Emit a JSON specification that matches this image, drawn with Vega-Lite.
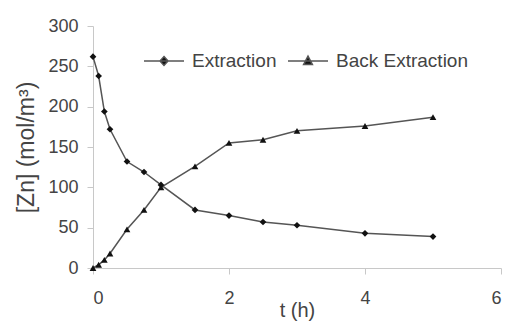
{
  "$schema": "https://vega.github.io/schema/vega-lite/v6.json",
  "width": 408,
  "height": 242,
  "autosize": {"type": "none"},
  "padding": {"left": 93, "top": 26, "right": 5, "bottom": 54},
  "background": "white",
  "config": {
    "font": "Liberation Sans",
    "view": {"stroke": null},
    "axis": {"grid": false, "domainColor": "#c8c8c8", "tickColor": "#c8c8c8", "tickSize": 6, "labelColor": "#444", "labelFontSize": 18, "titleFontSize": 20, "titleFontWeight": "normal", "titleColor": "#444"}
  },
  "data": {
    "values": [
      {"t": 0, "c": 262, "s": "Extraction"},
      {"t": 0.083, "c": 238, "s": "Extraction"},
      {"t": 0.167, "c": 194, "s": "Extraction"},
      {"t": 0.25, "c": 172, "s": "Extraction"},
      {"t": 0.5, "c": 132, "s": "Extraction"},
      {"t": 0.75, "c": 119, "s": "Extraction"},
      {"t": 1, "c": 103, "s": "Extraction"},
      {"t": 1.5, "c": 72, "s": "Extraction"},
      {"t": 2, "c": 65, "s": "Extraction"},
      {"t": 2.5, "c": 57, "s": "Extraction"},
      {"t": 3, "c": 53, "s": "Extraction"},
      {"t": 4, "c": 43, "s": "Extraction"},
      {"t": 5, "c": 39, "s": "Extraction"},
      {"t": 0, "c": 0, "s": "Back Extraction"},
      {"t": 0.083, "c": 4, "s": "Back Extraction"},
      {"t": 0.167, "c": 10, "s": "Back Extraction"},
      {"t": 0.25, "c": 18, "s": "Back Extraction"},
      {"t": 0.5, "c": 48, "s": "Back Extraction"},
      {"t": 0.75, "c": 72, "s": "Back Extraction"},
      {"t": 1, "c": 100, "s": "Back Extraction"},
      {"t": 1.5, "c": 126, "s": "Back Extraction"},
      {"t": 2, "c": 155, "s": "Back Extraction"},
      {"t": 2.5, "c": 159, "s": "Back Extraction"},
      {"t": 3, "c": 170, "s": "Back Extraction"},
      {"t": 4, "c": 176, "s": "Back Extraction"},
      {"t": 5, "c": 187, "s": "Back Extraction"}
    ]
  },
  "encoding": {
    "x": {"field": "t", "type": "quantitative", "scale": {"domain": [0, 6], "nice": false}, "axis": {"values": [0, 2, 4, 6], "title": "t (h)", "titlePadding": -7, "labelPadding": 15}},
    "y": {"field": "c", "type": "quantitative", "scale": {"domain": [0, 300], "nice": false}, "axis": {"values": [0, 50, 100, 150, 200, 250, 300], "title": "[Zn] (mol/m³)", "titlePadding": 9, "labelPadding": 9, "titleFontSize": 23}}
  },
  "layer": [
    {
      "mark": {"type": "line", "color": "#555", "strokeWidth": 1.5},
      "encoding": {"detail": {"field": "s"}}
    },
    {
      "mark": {"type": "point", "filled": true, "color": "#111", "size": 45, "opacity": 1},
      "encoding": {
        "shape": {"field": "s", "type": "nominal",
          "scale": {"domain": ["Extraction", "Back Extraction"], "range": ["diamond", "triangle-up"]},
          "legend": null
        }
      }
    },
    {
      "transform": [{"filter": "datum.t < 0"}],
      "mark": {"type": "point", "filled": true, "color": "#111", "stroke": "#555", "strokeWidth": 1.5, "opacity": 1},
      "encoding": {
        "shape": {"field": "s", "type": "nominal",
          "scale": {"domain": ["Extraction", "Back Extraction"], "range": ["M-1,0H1M0,-0.22L0.2,0L0,0.22L-0.2,0Z", "M-1,0H1M0,-0.24L0.22,0.18L-0.22,0.18Z"]},
          "legend": {"title": null, "orient": "none", "legendX": 50, "legendY": 14, "direction": "horizontal", "labelFontSize": 19, "labelColor": "#444", "symbolSize": 1600, "symbolStrokeWidth": 1.5, "columnPadding": 8, "labelOffset": 7, "padding": 0}
        }
      }
    }
  ],
  "resolve": {"scale": {"shape": "independent"}}
}
